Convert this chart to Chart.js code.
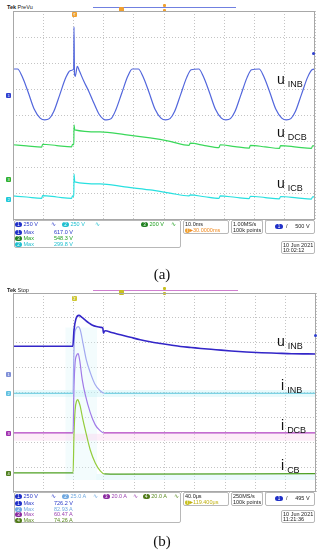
<!DOCTYPE html>
<html>
<head>
<meta charset="utf-8">
<script src="https://cdn.jsdelivr.net/npm/chart.js@4.4.0/dist/chart.umd.min.js"></script>
<style>
  body { margin: 0; background: #fff; width: 324px; height: 550px; position: relative; overflow: hidden; font-family: "Liberation Sans", Arial, sans-serif; }
  .abs { position: absolute; white-space: nowrap; }
  canvas { position: absolute; }
  .sm { font-size: 5.5px; line-height: 6px; }
  .box { position: absolute; border: 1px solid #b8b8b8; border-radius: 2px; box-sizing: border-box; }
  .bd { display: inline-block; width: 7px; height: 5px; border-radius: 2.5px; color: #fff; font-size: 4.5px; line-height: 5px; text-align: center; vertical-align: middle; }
  .lbl { position: absolute; font-size: 14px; line-height: 14px; color: #111; white-space: nowrap; }
  .lbl span { font-size: 9px; vertical-align: -3px; margin-left: 3px; }
  .cap { position: absolute; left: 0; width: 324px; text-align: center; font-family: "Liberation Serif", serif; font-size: 15px; color: #111; }
  .mk { position: absolute; width: 5px; height: 5px; border-radius: 1px; font-size: 4px; line-height: 5px; text-align: center; color: #fff; }
</style>
</head>
<body>

<!-- panel (a) -->
<div class="abs sm" style="left:7px;top:4px;color:#222"><b>Tek</b> PreVu</div>
<div class="abs" style="left:93px;top:7px;width:143px;height:1px;background:#7080e0"></div>
<div class="mk" style="left:119px;top:7px;background:#f0a030"></div>
<div class="mk" style="left:163px;top:4px;width:3px;height:3px;background:#f0a030"></div>
<div class="mk" style="left:163px;top:9px;width:3px;height:3px;background:#f0a030"></div>
<div class="mk" style="left:72px;top:12px;background:#f0a030">T</div>
<canvas id="chartA" width="304" height="211" style="left:12px;top:10px"></canvas>
<div class="mk" style="left:6px;top:93px;background:#3040d0">1</div>
<div class="mk" style="left:6px;top:177px;background:#30b030">3</div>
<div class="mk" style="left:6px;top:197px;background:#20c8d8">2</div>
<div class="mk" style="left:312px;top:52px;width:3px;height:3px;border-radius:2px;background:#3040d0"></div>
<div class="lbl" style="left:277px;top:72px">u<span>INB</span></div>
<div class="lbl" style="left:277px;top:125px">u<span>DCB</span></div>
<div class="lbl" style="left:277px;top:176px">u<span>ICB</span></div>

<div class="box" style="left:14px;top:220px;width:167px;height:28px"></div>
<div class="abs sm" style="left:15px;top:221px">
  <span class="bd" style="background:#2030c8">1</span> <span style="color:#2838c8">250 V</span>
  <span style="color:#2838c8;margin-left:12px">∿</span>
  <span class="bd" style="background:#20c0d0;margin-left:4px">2</span> <span style="color:#20c0d0">250 V</span>
  <span style="color:#20c0d0;margin-left:9px">∿</span>
</div>
<div class="abs sm" style="left:141px;top:221px">
  <span class="bd" style="background:#208020">3</span> <span style="color:#20a020">200 V</span>
  <span style="color:#20a020;margin-left:6px">∿</span>
</div>
<div class="abs sm" style="left:15px;top:229px"><span class="bd" style="background:#2030c8">1</span> <span style="color:#2838c8">Max</span></div>
<div class="abs sm" style="left:54px;top:229px;color:#2838c8">617.0 V</div>
<div class="abs sm" style="left:15px;top:235px"><span class="bd" style="background:#208020">3</span> <span style="color:#20a020">Max</span></div>
<div class="abs sm" style="left:54px;top:235px;color:#20a020">548.3 V</div>
<div class="abs sm" style="left:15px;top:241px"><span class="bd" style="background:#20c0d0">2</span> <span style="color:#20c0d0">Max</span></div>
<div class="abs sm" style="left:54px;top:241px;color:#20c0d0">299.8 V</div>

<div class="box" style="left:183px;top:220px;width:46px;height:14px"></div>
<div class="abs sm" style="left:185px;top:221px;color:#222">10.0ms</div>
<div class="abs sm" style="left:185px;top:227px;color:#f08a20"><span class="bd" style="background:#f0a030;width:5px">T</span>▸30.0000ms</div>
<div class="box" style="left:231px;top:220px;width:32px;height:14px"></div>
<div class="abs sm" style="left:233px;top:221px;color:#222">1.00MS/s</div>
<div class="abs sm" style="left:233px;top:227px;color:#222">100k points</div>
<div class="box" style="left:265px;top:220px;width:50px;height:14px"></div>
<div class="abs sm" style="left:275px;top:223px;color:#222"><span class="bd" style="background:#2030c8;width:8px">1</span>&nbsp;&nbsp;/&nbsp;&nbsp;&nbsp;&nbsp;&nbsp;500 V</div>
<div class="box" style="left:281px;top:241px;width:34px;height:13px"></div>
<div class="abs sm" style="left:283px;top:242px;color:#222">10 Jun 2021</div>
<div class="abs sm" style="left:283px;top:247px;color:#222">10:02:12</div>

<div class="cap" style="top:266px">(a)</div>

<!-- panel (b) -->
<div class="abs sm" style="left:7px;top:287px;color:#222"><b>Tek</b> Stop</div>
<div class="abs" style="left:93px;top:290px;width:145px;height:1px;background:#d080d0"></div>
<div class="mk" style="left:119px;top:290px;background:#c8c020"></div>
<div class="mk" style="left:163px;top:287px;width:3px;height:3px;background:#c8c020"></div>
<div class="mk" style="left:163px;top:292px;width:3px;height:3px;background:#c8c020"></div>
<div class="mk" style="left:72px;top:296px;background:#d0c830">T</div>
<canvas id="chartB" width="305" height="201" style="left:12px;top:292px"></canvas>
<div class="mk" style="left:6px;top:372px;background:#8090d8">1</div>
<div class="mk" style="left:6px;top:391px;background:#60c0e0">2</div>
<div class="mk" style="left:6px;top:431px;background:#a030b0">3</div>
<div class="mk" style="left:6px;top:471px;background:#508020">4</div>
<div class="mk" style="left:314px;top:334px;width:3px;height:3px;border-radius:2px;background:#3040d0"></div>
<div class="lbl" style="left:277px;top:334px">u<span>INB</span></div>
<div class="lbl" style="left:281px;top:378px">i<span>INB</span></div>
<div class="lbl" style="left:281px;top:418px">i<span>DCB</span></div>
<div class="lbl" style="left:281px;top:458px">i<span>CB</span></div>

<div class="box" style="left:14px;top:492px;width:167px;height:31px"></div>
<div class="abs sm" style="left:15px;top:493px">
  <span class="bd" style="background:#2030c8">1</span> <span style="color:#2838c8">250 V</span>
  <span style="color:#2838c8;margin-left:12px">∿</span>
  <span class="bd" style="background:#70a8e0;margin-left:4px">2</span> <span style="color:#70a8e0">25.0 A</span>
  <span style="color:#70a8e0;margin-left:6px">∿</span>
  <span class="bd" style="background:#8a2aa0;margin-left:3px">3</span> <span style="color:#9a40b0">20.0 A</span>
  <span style="color:#9a40b0;margin-left:5px">∿</span>
  <span class="bd" style="background:#507a18;margin-left:3px">4</span> <span style="color:#5a8a20">20.0 A</span>
  <span style="color:#5a8a20;margin-left:6px">∿</span>
</div>
<div class="abs sm" style="left:15px;top:500px"><span class="bd" style="background:#2030c8">1</span> <span style="color:#2838c8">Max</span></div>
<div class="abs sm" style="left:54px;top:500px;color:#2838c8">726.2 V</div>
<div class="abs sm" style="left:15px;top:505.5px"><span class="bd" style="background:#70a8e0">2</span> <span style="color:#70a8e0">Max</span></div>
<div class="abs sm" style="left:54px;top:505.5px;color:#70a8e0">82.93 A</div>
<div class="abs sm" style="left:15px;top:511px"><span class="bd" style="background:#8a2aa0">3</span> <span style="color:#9a40b0">Max</span></div>
<div class="abs sm" style="left:54px;top:511px;color:#9a40b0">60.47 A</div>
<div class="abs sm" style="left:15px;top:516.5px"><span class="bd" style="background:#507a18">4</span> <span style="color:#5a8a20">Max</span></div>
<div class="abs sm" style="left:54px;top:516.5px;color:#5a8a20">74.26 A</div>

<div class="box" style="left:183px;top:492px;width:46px;height:14px"></div>
<div class="abs sm" style="left:185px;top:493px;color:#222">40.0μs</div>
<div class="abs sm" style="left:185px;top:499px;color:#c0b010"><span class="bd" style="background:#c8c020;width:5px">T</span>▸119.400μs</div>
<div class="box" style="left:231px;top:492px;width:32px;height:14px"></div>
<div class="abs sm" style="left:233px;top:493px;color:#222">250MS/s</div>
<div class="abs sm" style="left:233px;top:499px;color:#222">100k points</div>
<div class="box" style="left:265px;top:492px;width:50px;height:14px"></div>
<div class="abs sm" style="left:275px;top:495px;color:#222"><span class="bd" style="background:#2030c8;width:8px">1</span>&nbsp;&nbsp;/&nbsp;&nbsp;&nbsp;&nbsp;&nbsp;495 V</div>
<div class="box" style="left:281px;top:510px;width:34px;height:13px"></div>
<div class="abs sm" style="left:283px;top:511px;color:#222">10 Jun 2021</div>
<div class="abs sm" style="left:283px;top:516px;color:#222">11:21:36</div>

<div class="cap" style="top:533px">(b)</div>

<script>
/* Scope captures redrawn with Chart.js.
 * x in ms (a) / us (b), y in screen divisions (0 = bottom graticule line). */

// ---- (a) 10 ms/div, 8 vertical divisions ----
const uINB_a = [[0,5.78],[1.5,5.78],[3,5.5],[5,4.9],[7,4.25],[9,3.9],[10.5,3.83],[12,3.88],[13.5,4.15],[15.5,4.8],
  [17.5,5.45],[19,5.72],[20.1,5.78],[20.2,7.39],[20.35,5.6],[20.6,5.5],[21.3,5.88],[22,5.7],[23.5,5.3],[25,4.95],
  [26.5,4.55],[28.5,4.05],[30,3.86],[31,3.83],[32.5,3.88],[34,4.2],[36,4.85],[38,5.5],[39.5,5.78],[41.5,5.78],
  [43,5.5],[45,4.9],[47,4.25],[49,3.9],[50.5,3.83],[52,3.88],[53.5,4.15],[55.5,4.8],[57.5,5.45],[59,5.75],
  [61.5,5.78],[63,5.5],[65,4.9],[67,4.25],[69,3.9],[70.5,3.83],[72,3.88],[73.5,4.15],[75.5,4.8],[77.5,5.45],
  [79,5.75],[81.5,5.78],[83,5.5],[85,4.9],[87,4.25],[89,3.9],[90.5,3.83],[92,3.88],[93.5,4.15],[95.5,4.8],
  [97.5,5.45],[99,5.75],[100,5.78]];
const uDCB_a = [[0,2.88],[4.5,2.84],[9.5,2.79],[9.8,2.9],[14.5,2.85],[19.4,2.8],[19.7,2.9],[20.15,2.88],[20.2,3.64],
  [20.45,3.45],[28.8,3.37],[37,3.27],[45.4,3.14],[52,3.01],[58.3,2.86],[58.7,2.94],[63.5,2.85],[68.2,2.77],[68.6,2.88],
  [73.5,2.81],[78.2,2.75],[78.6,2.86],[83.5,2.8],[88.2,2.74],[88.6,2.85],[94,2.79],[98.8,2.74],[99.2,2.84],[100,2.83]];
const uICB_a = [[0,0.92],[4.5,0.88],[9.5,0.83],[9.8,0.93],[14.5,0.88],[19.4,0.83],[19.7,0.92],[20.15,0.9],[20.2,1.76],
  [20.45,1.46],[28.8,1.38],[37,1.27],[45.4,1.15],[52,1.03],[58.3,0.92],[58.7,0.96],[63.5,0.89],[68.2,0.83],[68.6,0.92],
  [73.5,0.87],[78.2,0.82],[78.6,0.91],[83.5,0.86],[88.2,0.81],[88.6,0.9],[94,0.85],[98.8,0.8],[99.2,0.89],[100,0.88]];

// ---- (b) 40 us/div ----
const uINB_b = [[0,5.86],[79,5.86],[80.5,6.5],[83,6.95],[87,7.1],[91,7.02],[95,6.92],[100,6.8],[105,6.7],[110,6.65],
  [116,6.62],[118.5,6.6],[119.5,6.38],[120.5,6.45],[122,6.48],[130,6.41],[142,6.32],[155,6.22],[168,6.12],[181,6.04],
  [195,5.97],[208,5.91],[221,5.85],[235,5.81],[248,5.77],[268,5.72],[288,5.67],[308,5.63],[328,5.6],[348,5.58],
  [368,5.56],[400,5.55]];
const iINB_b = [[0,3.97],[79.3,3.97],[80,5.0],[81,6.2],[83,6.55],[86,6.65],[88.7,6.53],[92.7,5.93],[96.7,5.32],
  [102,4.8],[108.6,4.31],[115,4.07],[120.5,3.97],[400,3.97]];
const iDCB_b = [[0,2.38],[79.3,2.38],[80.5,4.2],[82,5.2],[84,5.5],[86,5.56],[88,5.3],[91.4,4.52],[95.4,3.91],
  [102,3.19],[108.6,2.7],[115.2,2.46],[119.5,2.38],[400,2.38]];
const iCB_b = [[0,0.77],[79.3,0.77],[80.5,2.3],[82,3.3],[84,3.66],[85.5,3.71],[87,3.62],[88.7,3.45],[92,2.95],
  [95.4,2.5],[102,1.69],[108.6,1.17],[115.2,0.85],[120.5,0.73],[140,0.72],[400,0.74]];

// pale persistence bands on the (b) screen: [x0, x1, yTop, yBottom]
const bands_b = [[0, 400, 4.1, 3.82], [0, 400, 2.34, 2.06], [110, 400, 0.72, 0.48], [69, 111, 6.61, 0.48]];
const bandColors_b = ['rgba(190,240,246,0.35)', 'rgba(250,210,238,0.4)', 'rgba(200,242,246,0.35)', 'rgba(215,245,250,0.3)'];

const pts = (arr) => arr.map(([x, y]) => ({ x, y }));

// graticule frame
const framePlugin = {
  id: 'frame',
  afterDraw(chart) {
    const { ctx, chartArea: a } = chart;
    ctx.save();
    ctx.strokeStyle = '#a8a8a8';
    ctx.lineWidth = 1;
    ctx.strokeRect(a.left + 0.5, a.top + 0.5, a.width - 1, a.height - 1);
    ctx.restore();
  },
};

function scopeOptions(xMax) {
  const axis = (max, step) => ({
    type: 'linear', min: 0, max,
    ticks: { display: false, stepSize: step },
    grid: { color: '#c4c4c4', drawTicks: false, lineWidth: 1 },
    border: { display: false, dash: [1, 2] },
  });
  return {
    responsive: false,
    animation: false,
    events: [],
    layout: { padding: 1 },
    plugins: { legend: { display: false }, tooltip: { enabled: false } },
    elements: { point: { radius: 0 }, line: { borderWidth: 1.2, cubicInterpolationMode: 'monotone' } },
    scales: { x: axis(xMax, xMax / 10), y: axis(8, 1) },
  };
}

// colour the fast transient differently from the baseline
const transient = (fast, base) => (c) =>
  (c.p0.parsed.x >= 79 && c.p1.parsed.x <= 121) ? fast : base;

new Chart(document.getElementById('chartA'), {
  type: 'line',
  data: {
    datasets: [
      { data: pts(uINB_a), borderColor: '#5266dc' },
      { data: pts(uDCB_a), borderColor: '#3ad85a' },
      { data: pts(uICB_a), borderColor: '#28e0e0' },
    ],
  },
  options: scopeOptions(100),
  plugins: [framePlugin],
});

const bandSets = bands_b.map(([x0, x1, top, bottom], i) => ({
  data: [{ x: x0, y: top }, { x: x1, y: top }],
  borderWidth: 0,
  backgroundColor: bandColors_b[i],
  fill: { value: bottom },
  cubicInterpolationMode: 'default',
  tension: 0,
}));

new Chart(document.getElementById('chartB'), {
  type: 'line',
  data: {
    datasets: [
      { data: pts(uINB_b), borderColor: '#3326c8', borderWidth: 1.6 },
      { data: pts(iINB_b), borderColor: '#58c4dc', segment: { borderColor: transient('#a2a8f0', '#58c4dc') } },
      { data: pts(iDCB_b), borderColor: '#b03cc0', segment: { borderColor: transient('#a07ae8', '#b03cc0') } },
      { data: pts(iCB_b), borderColor: '#4ea022', segment: { borderColor: transient('#94cc3c', '#4ea022') } },
      ...bandSets,
    ],
  },
  options: scopeOptions(400),
  plugins: [framePlugin],
});
</script>
</body>
</html>
